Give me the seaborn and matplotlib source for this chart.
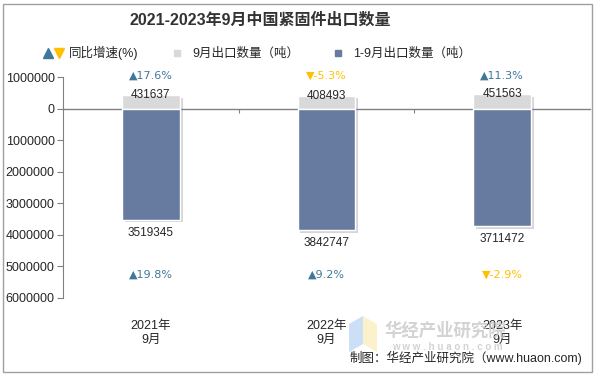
import numpy as np
import pandas as pd
import matplotlib
matplotlib.use('Agg')
import matplotlib.pyplot as plt
import matplotlib.patheffects as pe
from matplotlib.patches import Rectangle, Polygon
from matplotlib.lines import Line2D
from matplotlib.legend_handler import HandlerTuple
from matplotlib.ticker import FuncFormatter
import seaborn as sns

# Data
periods = ['2021年\n9月', '2022年\n9月', '2023年\n9月']
sep_qty = [431637, 408493, 451563]          # 9月出口数量（吨）
ytd_qty = [3519345, 3842747, 3711472]       # 1-9月出口数量（吨）
sep_growth = [17.6, -5.3, 11.3]             # 9月同比增速 %
ytd_growth = [19.8, 9.2, -2.9]              # 1-9月同比增速 %
series_names = ['9月出口数量（吨）', '1-9月出口数量（吨）']

sns.set_theme(style='white')
plt.rcParams['font.family'] = ['Liberation Sans', 'Noto Sans CJK SC', 'DejaVu Sans']

UP = '#40789B'
DOWN = '#FFC000'
GRAY = '#D9D9D9'
BLUE = '#677BA1'
AXC = '#808080'

df = pd.DataFrame({
    'period': periods * 2,
    'series': [series_names[0]] * 3 + [series_names[1]] * 3,
    'value': sep_qty + [-v for v in ytd_qty],
})

fig = plt.figure(figsize=(5.97, 3.75), dpi=100)
ax = fig.add_axes([63/597, 77/375, 527/597, 221/375])

sns.barplot(data=df, x='period', y='value', hue='series', dodge=False, width=0.33,
            palette=[GRAY, BLUE], saturation=1, errorbar=None, legend=False, ax=ax)
for p in ax.patches:
    p.set_path_effects([pe.SimplePatchShadow(offset=(2, -2), shadow_rgbFace='#888888', alpha=0.35),
                        pe.Normal()])

ax.set_xlim(-0.5, 2.5)
ax.set_ylim(-6e6, 1e6)
ax.set_yticks(np.arange(-6e6, 1.01e6, 1e6))
ax.yaxis.set_major_formatter(FuncFormatter(lambda v, pos: f'{abs(int(round(v)))}'))
ax.set_xlabel('')
ax.set_ylabel('')
for s in ['top', 'right', 'bottom']:
    ax.spines[s].set_visible(False)
ax.spines['left'].set_color(AXC)
ax.spines['left'].set_linewidth(0.8)
ax.tick_params(axis='y', left=True, length=4, width=0.8, color=AXC, labelsize=9, pad=2, labelcolor='#262626')
ax.tick_params(axis='x', bottom=False, length=0, labelsize=9, pad=16, labelcolor='#262626')

# zero line with category separator ticks
sec = ax.secondary_xaxis(6/7)
sec.set_xticks([0.5, 1.5])
sec.set_xticklabels(['', ''])
sec.xaxis.set_ticks_position('bottom')
sec.tick_params(length=3, width=0.8, color=AXC, direction='out')
for sp in sec.spines.values():
    sp.set_color(AXC)
    sp.set_linewidth(1)

# value and growth labels
for i in range(3):
    ax.text(i, sep_qty[i], f'{sep_qty[i]}', ha='center', va='center', fontsize=8.5, color='#262626')
    ax.annotate(f'{ytd_qty[i]}', (i, -ytd_qty[i]), xytext=(0, -5), textcoords='offset points',
                ha='center', va='top', fontsize=8.5, color='#262626')
    g = sep_growth[i]
    ax.text(i, 1.05e6, ('▲' if g >= 0 else '▼') + f'{g}%', ha='center', va='center',
            fontsize=8, family=['DejaVu Sans'], color=UP if g >= 0 else DOWN, clip_on=False)
    g = ytd_growth[i]
    ax.text(i, -5.27e6, ('▲' if g >= 0 else '▼') + f'{g}%', ha='center', va='center',
            fontsize=8, family=['DejaVu Sans'], color=UP if g >= 0 else DOWN)

# title and legend
fig.text(0.436, 1 - 20/375, '2021-2023年9月中国紧固件出口数量', ha='center', va='center',
         fontsize=11.5, fontweight='bold', color='#333333')
handles = [(Line2D([], [], marker='^', color=UP, ls='', ms=6.5),
            Line2D([], [], marker='v', color=DOWN, ls='', ms=6.5)),
           Line2D([], [], marker='s', color=GRAY, ls='', ms=5),
           Line2D([], [], marker='s', color=BLUE, ls='', ms=5)]
fig.legend(handles, ['同比增速(%)'] + series_names,
           handler_map={tuple: HandlerTuple(ndivide=None, pad=0)},
           ncol=3, loc='center', bbox_to_anchor=(0.43, 1 - 53/375), frameon=False,
           fontsize=9, handlelength=1.8, handletextpad=0.3, columnspacing=2.2)

# watermark
fig.patches.append(Polygon([(349/597, 1-352/375), (363/597, 1-344/375), (363/597, 1-316/375), (349/597, 1-324/375)],
                           closed=True, transform=fig.transFigure, facecolor='#BFD7F5', edgecolor='none', alpha=0.8))
fig.patches.append(Polygon([(363/597, 1-344/375), (377/597, 1-352/375), (377/597, 1-324/375), (363/597, 1-316/375)],
                           closed=True, transform=fig.transFigure, facecolor='#FBEFC0', edgecolor='none', alpha=0.8))
fig.text(445/597, 1 - 330/375, '华经产业研究院', ha='center', va='center', fontsize=12.5,
         fontweight='bold', color='#C8C8C8', alpha=0.8)
fig.text(447/597, 1 - 347/375, 'w w w . h u a o n . c o m', ha='center', va='center', fontsize=7,
         fontweight='bold', color='#C8C8C8', alpha=0.8)

# source
fig.text(582/597, 1 - 358/375, '制图：华经产业研究院（www.huaon.com)', ha='right', va='center',
         fontsize=9, color='#262626')

# outer border
fig.patches.append(Rectangle((3/597, 3/375), 589/597, 368/375, transform=fig.transFigure,
                             fill=False, edgecolor='#A0A0A0', lw=1))

fig.savefig('out.png', dpi=100)
